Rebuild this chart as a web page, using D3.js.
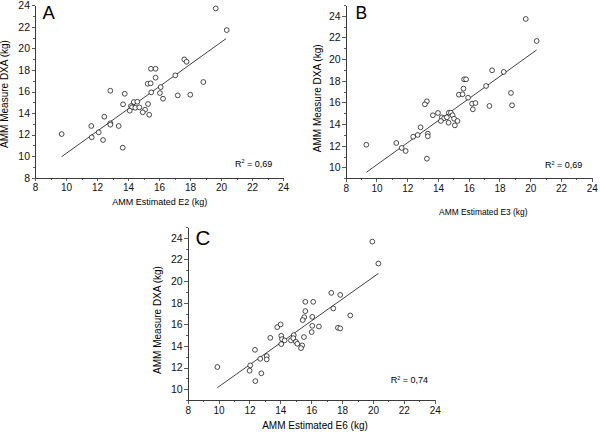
<!DOCTYPE html>
<html>
<head>
<meta charset="utf-8">
<script src="https://cdn.jsdelivr.net/npm/d3@7"></script>
<style>
  body { margin: 0; background: #fff; }
  svg { font-family: "Liberation Sans", Arial, Helvetica, sans-serif; }
  .axis path, .axis line { stroke: #333; stroke-width: 0.8; shape-rendering: crispEdges; }
  .axis text { fill: #111; }
</style>
</head>
<body>
<svg id="chart" width="600" height="432"></svg>
<script>
// panel A : AMM estimated E2 vs DXA
var aX = [19.66, 20.37, 9.72, 17.63, 17.78, 15.48, 15.78, 15.78, 17.05, 15.27, 15.46, 18.86, 16.11, 15.50,
          16.06, 12.86, 13.79, 16.26, 17.21, 18.02, 13.68, 14.37, 14.60, 14.19, 14.26, 14.47, 14.73, 15.29,
          14.11, 15.10, 14.95, 15.37, 12.47, 11.63, 12.86, 12.86, 13.40, 12.11, 11.66, 12.39, 13.66];
var aY = [23.71, 21.70, 12.05, 18.98, 18.76, 18.11, 18.11, 17.28, 17.50, 16.72, 16.76, 16.88, 16.41, 15.92,
          15.86, 16.07, 15.79, 15.33, 15.64, 15.70, 14.81, 15.02, 15.05, 14.65, 14.53, 14.49, 14.53, 14.84,
          14.22, 14.31, 14.07, 13.84, 13.66, 12.80, 13.05, 12.92, 12.80, 12.21, 11.75, 11.50, 10.79];
var aFit = [[9.72, 9.95], [20.32, 20.9]];

// panel B : AMM estimated E3 vs DXA
var bX = [19.71, 20.42, 9.34, 17.52, 18.28, 15.70, 15.83, 15.66, 17.13, 15.36, 15.60, 18.75, 15.96, 16.22,
          16.44, 13.28, 13.15, 16.27, 17.35, 18.82, 13.67, 14.00, 14.71, 14.84, 14.25, 14.40, 14.58, 14.95,
          14.19, 15.05, 15.27, 14.69, 15.10, 12.87, 12.68, 12.39, 13.34, 13.34, 11.29, 11.64, 11.90, 13.28];
var bY = [23.71, 21.68, 12.10, 18.97, 18.82, 18.14, 18.14, 17.28, 17.52, 16.72, 16.76, 16.88, 16.44, 15.89,
          15.95, 16.11, 15.83, 15.37, 15.68, 15.74, 14.82, 15.03, 15.06, 15.06, 14.63, 14.54, 14.63, 14.82,
          14.29, 14.50, 14.29, 14.13, 13.89, 13.71, 13.00, 12.84, 13.12, 12.88, 12.26, 11.80, 11.52, 10.81];
var bFit = [[9.34, 9.55], [20.42, 20.85]];

// panel C : AMM estimated E6 vs DXA
var cX = [19.96, 20.35, 9.92, 17.30, 17.88, 15.62, 16.13, 15.62, 17.43, 15.55, 15.45, 18.53, 16.07, 16.07,
          16.50, 13.80, 14.02, 16.03, 17.73, 17.88, 13.35, 14.06, 14.87, 14.11, 14.28, 14.69, 14.84, 15.53,
          14.06, 15.01, 15.10, 15.42, 15.34, 12.36, 12.70, 13.12, 13.12, 12.05, 12.01, 12.77, 12.38];
var cY = [23.65, 21.62, 12.05, 18.91, 18.72, 18.08, 18.08, 17.22, 17.47, 16.66, 16.39, 16.82, 16.69, 15.86,
          15.80, 15.74, 15.99, 15.28, 15.68, 15.62, 14.75, 14.94, 15.00, 14.63, 14.51, 14.51, 14.72, 14.82,
          14.17, 14.38, 14.20, 14.05, 13.80, 13.64, 12.81, 13.06, 12.76, 12.20, 11.71, 11.47, 10.75];
var cFit = [[9.92, 10.14], [20.35, 20.70]];

var xMajor = [8, 10, 12, 14, 16, 18, 20, 22, 24];
var xMinor = [9, 11, 13, 15, 17, 19, 21, 23];
var yMajor = [8, 10, 12, 14, 16, 18, 20, 22, 24];
var yMinor = [9, 11, 13, 15, 17, 19, 21, 23, 25];

var panelLetters = ["A", "B", "C"];
var xTitles = ["AMM Estimated E2 (kg)", "AMM Estimated E3 (kg)", "AMM Estimated E6 (kg)"];
var yTitle = "AMM Measure DXA (kg)";
var r2Labels = ["0,69", "0,69", "0,74"];

var svg = d3.select("#chart");

function drawPanel(p) {
	var x = d3.scaleLinear().domain([8, 24]).range([p.left, p.right]);
	var y = d3.scaleLinear().domain(p.yDomain).range([p.bottom, p.top]);
	var g = svg.append("g");

	var yMaj = yMajor.filter(function(v){ return v >= p.yDomain[0] && v <= p.yDomain[1]; });
	var yMin = yMinor.filter(function(v){ return v >= p.yDomain[0] && v <= p.yDomain[1]; });

	// minor ticks first, no labels
	g.append("g").attr("class", "axis")
		.attr("transform", "translate(0," + p.bottom + ")")
		.call(d3.axisBottom(x).tickValues(xMinor).tickSize(2).tickSizeOuter(0).tickFormat(""));
	g.append("g").attr("class", "axis")
		.attr("transform", "translate(" + p.left + ",0)")
		.call(d3.axisLeft(y).tickValues(yMin).tickSize(2).tickSizeOuter(0).tickFormat(""));

	g.append("g").attr("class", "axis")
		.attr("transform", "translate(0," + p.bottom + ")")
		.call(d3.axisBottom(x).tickValues(xMajor).tickSize(3.5).tickSizeOuter(0).tickPadding(3))
		.selectAll("text").style("font-size", "10px");
	g.append("g").attr("class", "axis")
		.attr("transform", "translate(" + p.left + ",0)")
		.call(d3.axisLeft(y).tickValues(yMaj).tickSize(3.5).tickSizeOuter(0).tickPadding(1.5))
		.selectAll("text").style("font-size", "10.5px");

	// fit line
	g.append("line")
		.attr("x1", x(p.fit[0][0])).attr("y1", y(p.fit[0][1]))
		.attr("x2", x(p.fit[1][0])).attr("y2", y(p.fit[1][1]))
		.style("stroke", "#111").style("stroke-width", 0.8);

	g.selectAll("circle.pt").data(d3.range(p.xs.length)).enter().append("circle")
		.attr("class", "pt")
		.attr("cx", function(i){ return x(p.xs[i]); })
		.attr("cy", function(i){ return y(p.ys[i]); })
		.attr("r", 2.4)
		.style("fill", "white")
		.style("stroke", "#111")
		.style("stroke-width", 0.75);

	g.append("text")
		.attr("x", p.letterX).attr("y", p.letterY)
		.style("font-size", p.letterSize + "px")
		.text(p.letter);

	g.append("text")
		.attr("x", p.xTitleX).attr("y", p.xTitleY)
		.attr("text-anchor", "middle")
		.style("font-size", p.xTitleSize + "px")
		.text(p.xTitle);

	g.append("text")
		.attr("transform", "translate(" + p.yTitleX + "," + p.yTitleY + ") rotate(-90)")
		.attr("text-anchor", "middle")
		.style("font-size", "10px")
		.text(yTitle);

	var r2 = g.append("text")
		.attr("x", p.r2X).attr("y", p.r2Y)
		.style("font-size", "9px");
	r2.append("tspan").text("R");
	r2.append("tspan").attr("dy", -3.5).style("font-size", "5.5px").text("2");
	r2.append("tspan").attr("dy", 3.5).text(" = " + p.r2);
}

drawPanel({
	xs: aX, ys: aY, fit: aFit, yDomain: [8, 24],
	left: 35, right: 283, top: 5.3, bottom: 177.7,
	letter: panelLetters[0], letterX: 42.5, letterY: 19.3, letterSize: 18.5,
	xTitle: xTitles[0], xTitleX: 159.7, xTitleY: 205, xTitleSize: 9,
	yTitleX: 8.3, yTitleY: 94,
	r2: r2Labels[0], r2X: 235, r2Y: 166.7
});

drawPanel({
	xs: bX, ys: bY, fit: bFit, yDomain: [9, 25],
	left: 345.7, right: 591.7, top: 5, bottom: 178.3,
	letter: panelLetters[1], letterX: 355.5, letterY: 19, letterSize: 17.5,
	xTitle: xTitles[1], xTitleX: 483.3, xTitleY: 214.5, xTitleSize: 8.4,
	yTitleX: 320.5, yTitleY: 98.3,
	r2: r2Labels[1], r2X: 545, r2Y: 168
});

drawPanel({
	xs: cX, ys: cY, fit: cFit, yDomain: [9, 25],
	left: 187.7, right: 434.7, top: 227, bottom: 400,
	letter: panelLetters[2], letterX: 195.5, letterY: 245, letterSize: 20.5,
	xTitle: xTitles[2], xTitleX: 315, xTitleY: 429, xTitleSize: 10,
	yTitleX: 160.5, yTitleY: 320,
	r2: r2Labels[2], r2X: 390.7, r2Y: 383
});
</script>
</body>
</html>
